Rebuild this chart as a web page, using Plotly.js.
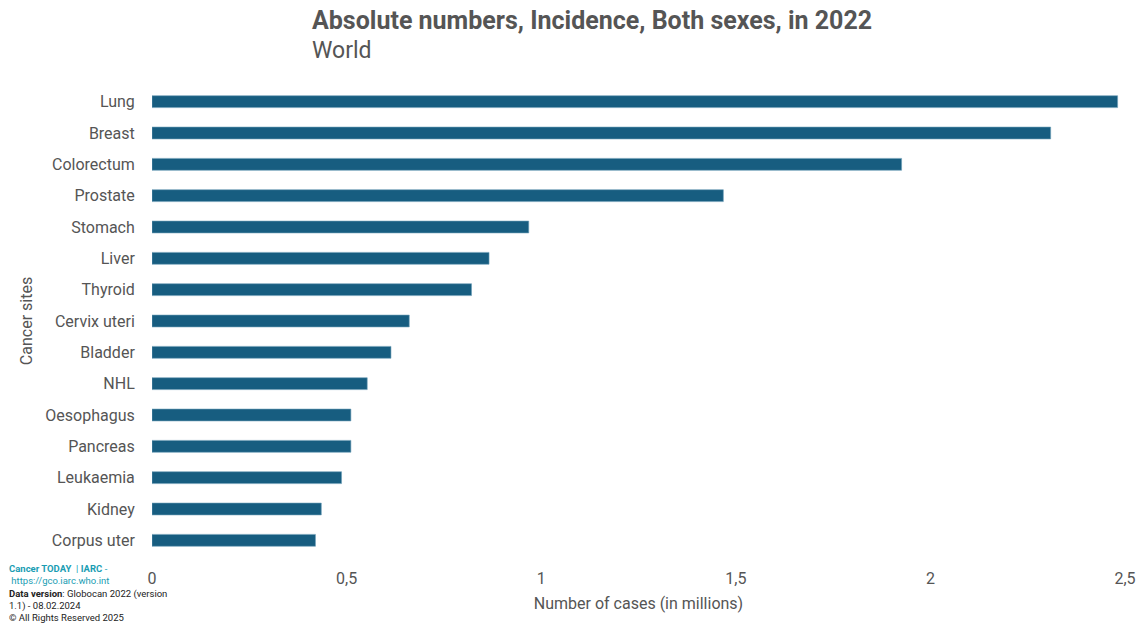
<!DOCTYPE html>
<html>
<head>
<meta charset="utf-8">
<script src="https://cdn.plot.ly/plotly-3.0.1.min.js"></script>
<style>html,body{margin:0;padding:0;background:#fff;}#chart{width:1137px;height:624px;}</style>
</head>
<body>
<div id="chart"></div>
<script>
const categories = ["Lung","Breast","Colorectum","Prostate","Stomach","Liver","Thyroid","Cervix uteri","Bladder","NHL","Oesophagus","Pancreas","Leukaemia","Kidney","Corpus uter"];
const casesMillions = [2.481,2.309,1.926,1.468,0.968,0.866,0.821,0.661,0.614,0.553,0.511,0.511,0.487,0.435,0.420];
const xTickVals = [0,0.5,1,1.5,2,2.5];
const xTickText = ["0","0,5","1","1,5","2","2,5"];

const FONT = "Roboto, 'Liberation Sans', sans-serif";
const GREY = "#555555";
const TEAL = "#1a9db3";

const trace = {
  type: "bar",
  orientation: "h",
  y: categories,
  x: casesMillions,
  marker: {color: "#175d80", line: {color: "#6f9fb8", width: 0.6}},
  hoverinfo: "x+y"
};

const layout = {
  width: 1137, height: 624,
  paper_bgcolor: "#ffffff", plot_bgcolor: "#ffffff",
  margin: {l: 152, r: 12, t: 86, b: 68},
  showlegend: false,
  bargap: 0.62,
  font: {family: FONT, color: GREY},
  xaxis: {
    range: [0, 2.5],
    tickvals: xTickVals, ticktext: xTickText,
    showgrid: false, zeroline: false, showline: false,
    ticks: "outside", ticklen: 8, tickcolor: "rgba(0,0,0,0)",
    tickfont: {size: 16, color: GREY, family: FONT},
    title: {text: "Number of cases (in millions)", font: {size: 16, color: GREY, family: FONT}, standoff: 10}
  },
  yaxis: {
    type: "category",
    autorange: "reversed",
    showgrid: false, zeroline: false, showline: false,
    ticks: "outside", ticklen: 13, tickcolor: "rgba(0,0,0,0)",
    tickfont: {size: 16, color: GREY, family: FONT},
    title: {text: "Cancer sites", font: {size: 16, color: GREY, family: FONT}, standoff: 8}
  },
  annotations: [
    {xref: "paper", yref: "paper", x: (310-152)/973, y: 1 + (86-21)/470, xanchor: "left", yanchor: "middle",
     text: "<b>Absolute numbers, Incidence, Both sexes, in 2022</b>", showarrow: false,
     font: {size: 25, color: GREY, family: FONT}},
    {xref: "paper", yref: "paper", x: (310-152)/973, y: 1 + (86-50)/470, xanchor: "left", yanchor: "middle",
     text: "World", showarrow: false,
     font: {size: 23, color: GREY, family: FONT}},
    {xref: "paper", yref: "paper", x: (7-152)/973, y: (556-561)/470, xanchor: "left", yanchor: "top", align: "left",
     showarrow: false,
     text: "<span style='color:" + TEAL + "'><b>Cancer TODAY</b>  | <b>IARC</b> -</span><br>" +
           "<span style='color:" + TEAL + "'> https://gco.iarc.who.int</span><br>" +
           "<b>Data version</b>: Globocan 2022 (version<br>1.1) - 08.02.2024<br>© All Rights Reserved 2025",
     font: {size: 9.5, color: "#222222", family: FONT}}
  ]
};

Plotly.newPlot("chart", [trace], layout, {displayModeBar: false, staticPlot: true});
</script>
</body>
</html>
